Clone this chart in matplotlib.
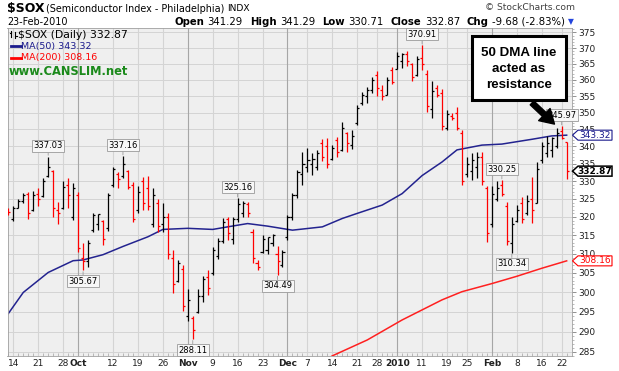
import numpy as np
import pandas as pd
import matplotlib
matplotlib.use("Agg")
import matplotlib.pyplot as plt
from matplotlib.lines import Line2D
from matplotlib.patches import Polygon, Rectangle, FancyArrowPatch
from matplotlib.ticker import FixedLocator, FixedFormatter, NullFormatter

# trading calendar (Sep 11 2009 .. Feb 23 2010)
holidays = ["2009-11-26", "2009-12-25", "2010-01-01", "2010-01-18", "2010-02-15"]
dates = pd.bdate_range("2009-09-11", "2010-02-23", freq="C", holidays=holidays)

opens = [322, 319.5, 322.5, 324.5, 326.5, 322, 326.5, 325.8, 331.5, 333,
         322, 322.5, 329, 320, 326, 309, 308, 316.5, 318, 319,
         317, 329, 332, 331.5, 333, 329, 322, 330, 328, 318,
         324, 318, 320, 309, 303, 306, 294, 293.5, 295, 299,
         304, 305, 309.5, 313.5, 319.5, 314, 319.5, 321, 323.5, 316,
         307.5, 310.5, 311, 313, 310, 307, 314.5, 320, 326, 332,
         334, 335, 334, 341, 340, 336.5, 342, 339, 344, 340.5,
         347, 353, 355, 357, 361.5, 357, 355.5, 363, 363.5, 366,
         368, 365, 361.5, 367, 362, 351, 357.5, 356, 345.5, 349,
         350, 344, 332, 333, 334, 337, 328, 318, 325, 329,
         323, 313, 319, 324, 321, 325, 324, 336, 338, 339,
         340, 344.5, 341.29]
highs = [322.5, 323.0, 325.0, 326.7, 327.0, 327.3, 328.0, 330.8, 337.03, 333.2,
         324.2, 330.0, 330.9, 329.6, 326.9, 313.0, 313.7, 321.2, 320.8, 319.3,
         326.7, 334.1, 332.7, 337.16, 333.2, 329.9, 328.6, 331.3, 331.5, 328.0,
         324.9, 324.0, 321.0, 311.0, 308.4, 307.0, 300.7, 294.0, 300.7, 304.3,
         305.7, 311.9, 314.2, 319.6, 320.1, 320.1, 325.16, 324.5, 324.2, 316.6,
         308.4, 315.1, 314.6, 315.4, 312.1, 311.0, 320.5, 326.6, 333.2, 338.5,
         339.5, 338.0, 339.0, 342.1, 342.4, 340.4, 342.7, 347.3, 344.3, 344.8,
         352.3, 356.4, 357.9, 360.8, 362.9, 358.4, 361.0, 364.1, 368.9, 368.6,
         369.2, 365.3, 367.5, 370.91, 363.1, 359.8, 358.4, 357.1, 350.8, 349.8,
         351.8, 344.8, 337.0, 338.0, 338.5, 338.5, 328.6, 328.6, 330.0, 330.25,
         324.2, 320.1, 323.3, 325.6, 326.1, 331.2, 335.6, 341.4, 343.0, 342.8,
         345.3, 345.97, 341.29]
lows = [320.5, 318.9, 322.4, 323.8, 319.4, 321.7, 323.0, 325.6, 331.2, 320.0,
        318.2, 322.1, 322.4, 319.2, 310.5, 305.67, 306.5, 315.8, 316.4, 312.5,
        316.2, 328.5, 328.0, 331.0, 327.7, 318.5, 321.0, 321.9, 321.9, 317.3,
        316.0, 316.0, 308.6, 299.8, 302.7, 295.2, 292.7, 288.11, 294.7, 297.5,
        299.2, 304.4, 308.6, 313.0, 313.7, 312.7, 318.5, 320.1, 320.1, 307.5,
        305.7, 310.3, 309.9, 312.0, 304.49, 306.5, 313.7, 319.2, 325.2, 328.9,
        332.7, 331.8, 333.2, 335.9, 333.7, 336.1, 337.0, 338.8, 338.5, 339.4,
        346.4, 352.3, 352.8, 356.0, 355.1, 353.9, 355.3, 358.8, 363.3, 363.8,
        364.2, 359.6, 361.2, 363.0, 350.3, 348.3, 354.9, 344.8, 344.8, 347.8,
        344.8, 328.9, 331.3, 330.3, 330.8, 328.9, 313.3, 317.3, 324.3, 325.8,
        312.4, 310.34, 318.7, 318.3, 320.5, 318.3, 323.8, 335.1, 337.0, 337.0,
        339.5, 342.1, 330.71]
closes = [321.3, 322.5, 324.5, 326, 321, 326, 325, 330, 334, 322.5,
          321, 328.5, 326, 328, 311.5, 308, 313, 320.5, 320.7, 314,
          326, 333.5, 330.5, 335, 328.5, 319.5, 327, 324, 323, 326,
          317.5, 320, 310, 302, 307.5, 296.5, 298, 290.5, 299, 303.5,
          301, 311, 313.5, 318.5, 315.5, 319.5, 323.5, 324, 321, 309,
          306.5, 314, 314.5, 315, 308, 310.5, 320, 326, 332.5, 335,
          336, 336.5, 338, 337, 335, 339.5, 338.5, 345.5, 341, 343,
          351.5, 355.5, 357, 360, 357.5, 355, 360, 359.5, 367.5, 368,
          366, 361, 366.5, 365, 352, 356.5, 355.5, 346, 349.5, 348.5,
          345.5, 330, 335, 336, 337, 330, 315.5, 326.5, 328, 326.5,
          313.5, 318, 322, 319.5, 324.5, 322, 333.5, 340, 341, 342.5,
          344, 342.55, 332.87]

ma50_dates = ["2009-09-11", "2009-09-16", "2009-09-23", "2009-09-30", "2009-10-02",
              "2009-10-08", "2009-10-14", "2009-10-21", "2009-10-26", "2009-11-02",
              "2009-11-09", "2009-11-12", "2009-11-18", "2009-11-24", "2009-12-02",
              "2009-12-10", "2009-12-16", "2009-12-21", "2009-12-29", "2010-01-05",
              "2010-01-11", "2010-01-15", "2010-01-21", "2010-01-28", "2010-02-03",
              "2010-02-11", "2010-02-18", "2010-02-23"]
ma50 = [294.5, 299.9, 305.1, 308.2, 308.4, 309.8, 312.0, 314.6, 316.6, 316.9,
        316.6, 317.3, 318.2, 317.5, 316.4, 317.3, 319.6, 321.0, 323.3, 326.5,
        331.6, 335.5, 339.0, 340.4, 340.7, 342.1, 343.1, 343.32]

ma200_dates = ["2009-12-11", "2009-12-14", "2009-12-23", "2010-01-05", "2010-01-15",
               "2010-01-22", "2010-02-01", "2010-02-08", "2010-02-16", "2010-02-23"]
ma200 = [283.2, 284.0, 287.9, 292.9, 298.0, 300.1, 302.2, 304.1, 306.2, 308.16]

peak_dates = ["2009-09-23", "2009-10-14", "2009-11-16", "2010-01-11", "2010-02-03", "2010-02-22"]
trough_dates = ["2009-10-02", "2009-11-03", "2009-11-27", "2010-02-05"]

tick_dates = ["2009-09-14", "2009-09-21", "2009-09-28", "2009-10-01", "2009-10-12",
              "2009-10-19", "2009-10-26", "2009-11-02", "2009-11-09", "2009-11-16",
              "2009-11-23", "2009-12-01", "2009-12-07", "2009-12-14", "2009-12-21",
              "2009-12-28", "2010-01-04", "2010-01-11", "2010-01-19", "2010-01-25",
              "2010-02-01", "2010-02-08", "2010-02-16", "2010-02-22"]
tick_labels = ["14", "21", "28", "Oct", "12", "19", "26", "Nov", "9", "16", "23", "Dec",
               "7", "14", "21", "28", "2010", "11", "19", "25", "Feb", "8", "16", "22"]
price_ticks = list(range(285, 380, 5))

W, H = 619, 371
fig = plt.figure(figsize=(W / 100, H / 100), dpi=100)
fig.patch.set_facecolor("white")


def fx(px):
    return px / W


def fy(py):
    return 1 - py / H


pos = {d.strftime("%Y-%m-%d"): i for i, d in enumerate(dates)}
x = np.arange(len(dates))
o, h, l, c = (np.array(a, dtype=float) for a in (opens, highs, lows, closes))

ax = fig.add_axes([fx(7.5), fy(356), fx(572) - fx(7.5), fy(28) - fy(356)])
ax.set_facecolor("#efefef")
ax.set_yscale("log")
ax.set_xlim(-0.16, 113.07)
ax.set_ylim(283.96, 376.45)

# grid
for v in price_ticks:
    ax.axhline(v, color="#d4d4d4", lw=0.7, zorder=0)
for d, lab in zip(tick_dates, tick_labels):
    month = (not lab.isdigit()) or len(lab) == 4
    ax.axvline(pos[d], color="#a6a6a6" if month else "#d4d4d4", lw=0.8, zorder=0)

# OHLC bars
prev = np.r_[o[0], c[:-1]]
colors = np.where(c < prev, "#ff0000", "#000000")
ax.vlines(x, l, h, colors=colors, lw=0.9, zorder=3)
ax.hlines(o, x - 0.42, x, colors=colors, lw=0.9, zorder=3)
ax.hlines(c, x, x + 0.42, colors=colors, lw=0.9, zorder=3)

# moving averages
ax.plot([pos[d] for d in ma50_dates], ma50, color="#23238f", lw=1.1, zorder=2)
ax.plot([pos[d] for d in ma200_dates], ma200, color="#ff2020", lw=1.1, zorder=2)

# axes styling
for s in ax.spines.values():
    s.set_color("#a0a0a0")
    s.set_linewidth(0.6)
ax.yaxis.tick_right()
ax.yaxis.set_major_locator(FixedLocator(price_ticks))
ax.yaxis.set_major_formatter(FixedFormatter([str(v) for v in price_ticks]))
ax.yaxis.set_minor_locator(FixedLocator(range(284, 377)))
ax.yaxis.set_minor_formatter(NullFormatter())
ax.tick_params(axis="y", which="major", length=3, width=0.6, color="#808080",
               pad=1.5, labelsize=6.5, labelcolor="#202020")
ax.tick_params(axis="y", which="minor", length=1.5, width=0.5, color="#a0a0a0")
ax.set_xticks([pos[d] for d in tick_dates])
ax.set_xticklabels(tick_labels)
for t, lab in zip(ax.get_xticklabels(), tick_labels):
    if (not lab.isdigit()) or len(lab) == 4:
        t.set_fontweight("bold")
ax.xaxis.set_minor_locator(FixedLocator(x))
ax.tick_params(axis="x", which="major", length=0, pad=2.5, labelsize=6.5, labelcolor="#202020")
ax.tick_params(axis="x", which="minor", length=2, direction="in", width=0.5, color="#a0a0a0")

# high / low value boxes
box = dict(boxstyle="square,pad=0.18", fc="#f7f7f7", ec="#9a9a9a", lw=0.6)
arrow = dict(arrowstyle="-", color="#9a9a9a", lw=0.6, shrinkA=0, shrinkB=1)
for d in peak_dates:
    i = pos[d]
    ax.annotate(f"{h[i]:.2f}", xy=(i, h[i]), xytext=(0, 8), textcoords="offset points",
                ha="center", va="center", fontsize=6, bbox=box, arrowprops=arrow, zorder=5)
for d in trough_dates:
    i = pos[d]
    ax.annotate(f"{l[i]:.2f}", xy=(i, l[i]), xytext=(0, -8), textcoords="offset points",
                ha="center", va="center", fontsize=6, bbox=box, arrowprops=arrow, zorder=5)


# right-hand value tags
def tag(val, color, bold=False, lw=0.8):
    yb = ax.transData.transform((0, val))[1]
    pts = [(572.5, yb), (578, yb + 5), (612, yb + 5), (612, yb - 5), (578, yb - 5)]
    fig.add_artist(Polygon([(px / W, py / H) for px, py in pts], closed=True,
                           transform=fig.transFigure, fc="white", ec=color, lw=lw, zorder=6))
    fig.text(595 / W, yb / H, f"{val:.2f}", ha="center", va="center", fontsize=6.5,
             color=color, fontweight="bold" if bold else "normal", zorder=7)


tag(ma50[-1], "#1a1a8c")
tag(c[-1], "#000000", bold=True, lw=1.1)
tag(ma200[-1], "#ff0000")

# legend block inside plot
fig.add_artist(Line2D([fx(11), fx(11)], [fy(31), fy(37)], color="black", lw=0.8))
fig.add_artist(Line2D([fx(9.5), fx(11)], [fy(33), fy(33)], color="black", lw=0.8))
fig.add_artist(Line2D([fx(15), fx(15)], [fy(32), fy(38)], color="black", lw=0.8))
fig.add_artist(Line2D([fx(15), fx(16.5)], [fy(36), fy(36)], color="black", lw=0.8))
fig.text(fx(18.5), fy(34.5), f"$SOX (Daily) {c[-1]:.2f}", fontsize=7.8, va="center", color="black")
fig.add_artist(Line2D([fx(11), fx(20.5)], [fy(46), fy(46)], color="#1a1a8c", lw=2))
fig.text(fx(21), fy(46), f"MA(50) {ma50[-1]:.2f}", fontsize=6.8, va="center", color="#1a1a8c")
fig.add_artist(Line2D([fx(11), fx(20.5)], [fy(57.5), fy(57.5)], color="#ff0000", lw=2))
fig.text(fx(21), fy(57.5), f"MA(200) {ma200[-1]:.2f}", fontsize=6.8, va="center", color="#ff0000")
fig.text(fx(9), fy(71.5), "www.CANSLIM.net", fontsize=8.3, fontweight="bold", va="center",
         color="#1b8a1b")

# header
fig.text(fx(6.5), fy(8.5), "$SOX", fontsize=9, fontweight="bold", va="center")
fig.text(fx(46.5), fy(8.5), "(Semiconductor Index - Philadelphia)", fontsize=6.9, va="center")
fig.text(fx(227), fy(8.5), "INDX", fontsize=6.6, va="center")
fig.text(fx(575), fy(8), "\u00a9 StockCharts.com", fontsize=6.6, va="center", ha="right",
         color="#404040")
fig.text(fx(7), fy(22), dates[-1].strftime("%d-%b-%Y"), fontsize=6.9, va="center")

renderer = fig.canvas.get_renderer()
chg = c[-1] - c[-2]
pct = chg / c[-2] * 100
pieces = [("Open", True, 0), (f"{o[-1]:.2f}", False, 3.5), ("High", True, 7),
          (f"{h[-1]:.2f}", False, 3.5), ("Low", True, 7), (f"{l[-1]:.2f}", False, 3.5),
          ("Close", True, 7), (f"{c[-1]:.2f}", False, 3.5), ("Chg", True, 7),
          (f"{chg:.2f} ({pct:.2f}%)", False, 3.5)]
arts = [fig.text(0, fy(22), s, fontsize=7.3, va="center",
                 fontweight="bold" if b else "normal") for s, b, g in pieces]
widths = [a.get_window_extent(renderer).width for a in arts]
total = sum(widths) + sum(g for s, b, g in pieces)
xp = 565.5 - total
for a, wd, (s, b, g) in zip(arts, widths, pieces):
    xp += g
    a.set_x(fx(xp))
    xp += wd
fig.text(fx(567.5), fy(21.5), "\u25bc", fontsize=5.5, va="center", color="#2244dd")

# callout box and arrow
fig.add_artist(Rectangle((fx(472), fy(100)), fx(566) - fx(472), fy(36) - fy(100),
                         transform=fig.transFigure, fc="white", ec="black", lw=2.2, zorder=8))
for k, line in enumerate(["50 DMA line", "acted as", "resistance"]):
    fig.text(fx(519), fy(53 + 16 * k), line, ha="center", va="center", fontsize=9.6,
             fontweight="bold", family="Liberation Sans", zorder=9)
fig.add_artist(FancyArrowPatch((fx(530), fy(101)), (fx(556.5), fy(126)),
                               transform=fig.transFigure,
                               arrowstyle="simple,head_width=1.2,head_length=1.0,tail_width=0.38",
                               mutation_scale=10, color="black", zorder=9))

fig.savefig("out.png", dpi=100)
